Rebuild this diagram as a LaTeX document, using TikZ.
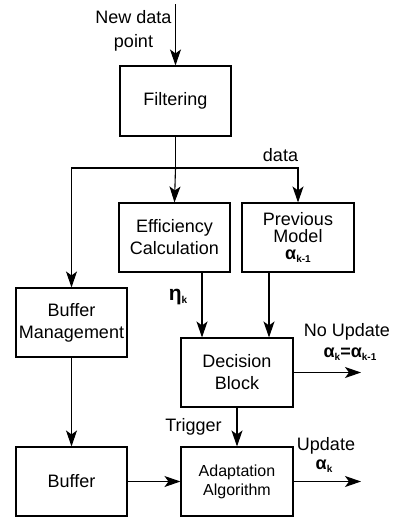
\documentclass[tikz,border=0pt]{standalone}
\usepackage{fontspec}
\setmainfont{Liberation Sans}
\usetikzlibrary{arrows.meta}
\newcommand{\alk}[1]{\textbf{α}\raisebox{-0.3ex}{\fontsize{10}{10}\selectfont\bfseries #1}}
\begin{document}
\begin{tikzpicture}[x=1pt,y=-1pt,
  block/.style={draw,line width=1.1pt,minimum width=111pt,minimum height=69pt,
    inner sep=0pt,align=center,font=\fontsize{18}{22}\selectfont},
  lbl/.style={inner sep=0pt,align=center,font=\fontsize{18}{24}\selectfont},
  link/.style={line width=1.1pt},
  arr/.style={link,-{Stealth[length=16pt,width=11pt,inset=4pt]}}]
\useasboundingbox (0,0) rectangle (397,517);

% blocks
\node[block,minimum height=70pt] (filt) at (175.5,101) {Filtering};
\node[block] (eff)  at (174.5,237.5) {Efficiency\\Calculation};
\node[block,minimum width=112pt,font=\fontsize{18}{17}\selectfont] (prev) at (298,237.5)
  {Previous\\Model\\\alk{k-1}};
\node[block] (bm)   at (71.5,322.5) {Buffer\\Management};
\node[block,minimum width=112pt] (dec)  at (237,372.5) {Decision\\Block};
\node[block,minimum height=69pt] (buf)  at (71.5,481.5) {Buffer};
\node[block,minimum width=112pt,font=\fontsize{16}{19}\selectfont] (adapt) at (237,481.5)
  {Adaptation\\Algorithm};

% free ends and branch points
\coordinate (src)  at (175.5,4);
\coordinate (junc) at (175.5,168);
\coordinate (nout) at (361,372.5);
\coordinate (uout) at (361,481.5);

% connectors
\draw[arr] (src) -- (filt.north);
\draw[link] (filt.south) -- (junc);
\draw[arr] (junc) -- (eff.north);
\draw[arr] (junc) -| (bm.north);
\draw[arr] (junc) -| (prev.north);
\draw[arr] ([xshift=27.5pt]eff.south) -- ([xshift=27.5pt]eff.south |- dec.north);
\draw[arr] ([xshift=-29pt]prev.south) -- ([xshift=-29pt]prev.south |- dec.north);
\draw[arr] (bm.south) -- (buf.north);
\draw[arr] (dec.south) -- (adapt.north);
\draw[arr] (buf.east) -- (adapt.west);
\draw[arr] (dec.east) -- (nout);
\draw[arr] (adapt.east) -- (uout);

% labels
\node[lbl] (lnew) at (133.5,31) {New data\\point};
\node[lbl] (ldata) at (280.5,155) {data};
\node[lbl,font=\fontsize{21}{24}\selectfont] (leta) at (178,297)
  {\textbf{η}\raisebox{-0.25ex}{\fontsize{10}{10}\selectfont\bfseries k}};
\node[lbl] (lno) at (347,332) {No Update};
\node[lbl] (lnoeq) at (350,354) {\alk{k}\textbf{=}\alk{k-1}};
\node[lbl] (ltrig) at (193.5,427) {Trigger};
\node[lbl] (lupd) at (326,446) {Update};
\node[lbl] (lupda) at (324,466) {\alk{k}};
\end{tikzpicture}
\end{document}
